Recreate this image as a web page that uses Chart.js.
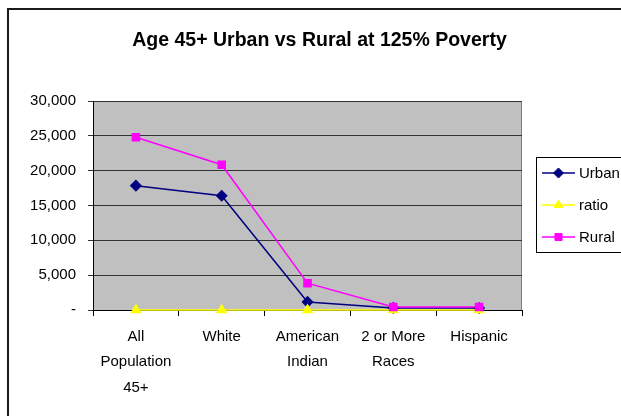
<!DOCTYPE html>
<html>
<head>
<meta charset="utf-8">
<script src="https://cdn.jsdelivr.net/npm/chart.js@4"></script>
<style>
  html, body { margin: 0; padding: 0; background: #fff; }
  #wrap { width: 621px; height: 416px; position: relative; }
</style>
</head>
<body>
<div id="wrap"><canvas id="chart"></canvas></div>
<script>
// chart values
var categories = [["All", "Population", "45+"], "White", ["American", "Indian"], ["2 or More", "Races"], "Hispanic"];
var urban = [17850, 16400, 1160, 300, 280];
var ratio = [1.4, 1.3, 3.3, 1.3, 1.3];
var rural = [24800, 20850, 3850, 420, 420];
var yTicks = [0, 5000, 10000, 15000, 20000, 25000, 30000];
var titleText = "Age 45+ Urban vs Rural at 125% Poverty";

var FONT = "'Liberation Sans', Arial, sans-serif";

// grey plot area, outer frame and title
var backdrop = {
	id: 'backdrop',
	beforeDraw: function(chart) {
		var c = chart.ctx, a = chart.chartArea;
		c.save();
		c.fillStyle = '#c0c0c0';
		c.fillRect(a.left, a.top, a.right - a.left, a.bottom - a.top);
		c.strokeStyle = '#808080';
		c.lineWidth = 1;
		c.beginPath();
		c.moveTo(a.left, a.top + 0.5);
		c.lineTo(a.right - 0.5, a.top + 0.5);
		c.lineTo(a.right - 0.5, a.bottom);
		c.stroke();
		// outer frame (cut off on the right and bottom)
		c.strokeStyle = '#1a1a1a';
		c.lineWidth = 2;
		c.strokeRect(8, 9, 700, 500);
		c.fillStyle = '#000';
		c.font = 'bold 19.5px ' + FONT;
		c.textAlign = 'center';
		c.textBaseline = 'middle';
		c.fillText(titleText, 319.5, 41);
		c.restore();
	}
};

// excel style legend: line with marker in the middle
var sideLegend = {
	id: 'sideLegend',
	afterDraw: function(chart) {
		var c = chart.ctx;
		var x = 536, y = 157;
		c.save();
		c.strokeStyle = '#000';
		c.lineWidth = 1;
		c.strokeRect(x + 0.5, y + 0.5, 200, 95);
		c.font = '15px ' + FONT;
		c.textBaseline = 'middle';
		c.textAlign = 'left';
		chart.data.datasets.forEach(function(ds, i) {
			var ly = 173 + i * 32;
			c.strokeStyle = ds.borderColor;
			c.lineWidth = 1.5;
			c.beginPath();
			c.moveTo(542, ly);
			c.lineTo(575, ly);
			c.stroke();
			c.fillStyle = ds.pointBackgroundColor;
			c.strokeStyle = ds.pointBorderColor;
			c.lineWidth = 1;
			Chart.helpers.drawPoint(c, {
				pointStyle: ds.pointStyle,
				radius: ds.pointRadius,
				borderWidth: 1
			}, 558.5, ly);
			c.fillStyle = '#000';
			c.fillText(ds.label, 579, ly + 1);
		});
		c.restore();
	}
};

new Chart(document.getElementById('chart'), {
	type: 'line',
	data: {
		labels: categories,
		datasets: [
			{ label: 'Urban', data: urban, borderColor: '#000080', backgroundColor: '#000080',
			  pointBackgroundColor: '#000080', pointBorderColor: '#000080', pointStyle: 'rectRot',
			  pointRadius: 5, borderWidth: 1.5, order: 3, clip: false },
			{ label: 'ratio', data: ratio, borderColor: '#ffff00', backgroundColor: '#ffff00',
			  pointBackgroundColor: '#ffff00', pointBorderColor: '#ffff00', pointStyle: 'triangle',
			  pointRadius: 5, borderWidth: 1.5, order: 2, clip: false },
			{ label: 'Rural', data: rural, borderColor: '#ff00ff', backgroundColor: '#ff00ff',
			  pointBackgroundColor: '#ff00ff', pointBorderColor: '#ff00ff', pointStyle: 'rect',
			  pointRadius: 5, borderWidth: 1.5, order: 1, clip: false }
		]
	},
	options: {
		responsive: true,
		maintainAspectRatio: false,
		devicePixelRatio: 1,
		animation: false,
		layout: { padding: { left: 0, top: 101, right: 99, bottom: 0 } },
		plugins: {
			legend: { display: false },
			title: { display: false },
			tooltip: { enabled: false }
		},
		scales: {
			x: {
				offset: true,
				grid: { display: true, drawOnChartArea: false, drawTicks: true, tickLength: 6, offset: true, color: '#000' },
				border: { color: '#000', width: 1 },
				ticks: { color: '#000', padding: 8, maxRotation: 0, autoSkip: false,
					font: { family: FONT, size: 15, lineHeight: 1.7 } },
				afterFit: function(s) { s.height = 106; }
			},
			y: {
				min: 0, max: 30000,
				afterBuildTicks: function(s) { s.ticks = yTicks.map(function(v) { return { value: v }; }); },
				grid: { color: '#333', tickLength: 5, drawTicks: true },
				border: { color: '#000', width: 1 },
				ticks: { color: '#000', padding: 12,
					font: { family: FONT, size: 15 },
					callback: function(v) { return v === 0 ? '-' : v.toLocaleString('en-US'); } },
				afterFit: function(s) { s.width = 93; }
			}
		}
	},
	plugins: [backdrop, sideLegend]
});
</script>
</body>
</html>
